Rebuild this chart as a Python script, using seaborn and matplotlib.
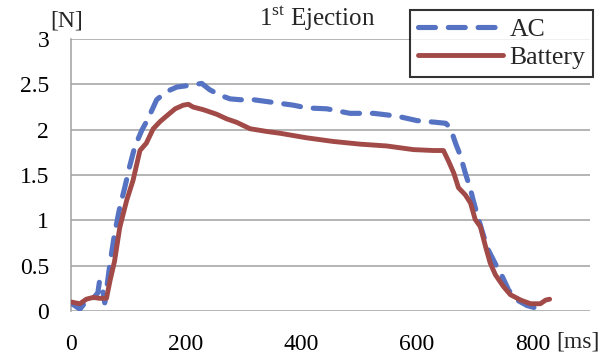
import matplotlib
matplotlib.use("Agg")
import matplotlib.pyplot as plt
import seaborn as sns
import pandas as pd

ac_ms = [0, 16, 27, 39, 47, 50, 55, 59, 68, 76, 85, 94, 102, 111, 123, 134, 149, 166, 184, 207, 227,
         241, 259, 276, 294, 317, 340, 363, 386, 409, 444, 484, 525, 565, 600, 635, 650, 658, 667,
         675, 684, 693, 698, 707, 716, 724, 736, 748, 759, 774, 791, 808, 820]
ac_n = [0.09, 0.02, 0.11, 0.14, 0.20, 0.33, 0.25, 0.09, 0.52, 0.85, 1.14, 1.37, 1.59, 1.81, 1.99, 2.12,
        2.33, 2.42, 2.47, 2.49, 2.51, 2.44, 2.38, 2.34, 2.33, 2.33, 2.31, 2.29, 2.27, 2.24, 2.23, 2.18,
        2.18, 2.15, 2.10, 2.08, 2.07, 2.02, 1.85, 1.72, 1.52, 1.34, 1.21, 1.01, 0.82, 0.67, 0.52, 0.38,
        0.23, 0.12, 0.06, 0.03, 0.03]

bat_ms = [0, 16, 27, 39, 50, 62, 68, 76, 85, 97, 108, 120, 131, 143, 155, 166, 181, 195, 204, 212, 230,
          253, 270, 288, 311, 340, 363, 409, 455, 502, 548, 594, 629, 646, 655, 664, 672, 684, 693,
          701, 710, 719, 727, 736, 750, 762, 780, 797, 814, 823, 830]
bat_n = [0.10, 0.08, 0.13, 0.15, 0.14, 0.14, 0.33, 0.55, 0.92, 1.22, 1.44, 1.77, 1.85, 2.01, 2.09, 2.15,
         2.23, 2.27, 2.28, 2.25, 2.22, 2.17, 2.12, 2.08, 2.01, 1.98, 1.96, 1.91, 1.87, 1.84, 1.82, 1.78,
         1.77, 1.77, 1.65, 1.52, 1.36, 1.28, 1.19, 1.01, 0.93, 0.71, 0.53, 0.40, 0.27, 0.18, 0.12, 0.08,
         0.08, 0.12, 0.13]

x_ticks = [0, 200, 400, 600, 800]
y_ticks = [0, 0.5, 1, 1.5, 2, 2.5, 3]
y_tick_labels = ["0", "0.5", "1", "1.5", "2", "2.5", "3"]

sns.set_theme(style="white")
plt.rcParams["font.family"] = ["Liberation Serif", "DejaVu Serif"]
plt.rcParams["mathtext.fontset"] = "custom"
plt.rcParams["mathtext.rm"] = "Liberation Serif"

fig = plt.figure(figsize=(6.1, 3.54), dpi=100)
ax = fig.add_axes([70.7 / 610, 1 - 311 / 354, (590 - 70.7) / 610, (311 - 39) / 354])

ac_df = pd.DataFrame({"ms": ac_ms, "N": ac_n})
bat_df = pd.DataFrame({"ms": bat_ms, "N": bat_n})

blue = "#5672C2"
red = "#A24A47"
sns.lineplot(data=ac_df, x="ms", y="N", ax=ax, color=blue, linewidth=3.7, label="AC",
             dashes=False, zorder=3)
sns.lineplot(data=bat_df, x="ms", y="N", ax=ax, color=red, linewidth=3.5, label="Battery",
             zorder=4)
l_ac = ax.lines[0]
l_ac.set_dashes((3.3, 2.5))
l_ac.set_dash_capstyle("round")
ax.lines[1].set_solid_capstyle("round")

ax.set_xlim(0, 900)
ax.set_ylim(0, 3)
ax.set_xticks(x_ticks)
ax.set_xticklabels([str(t) for t in x_ticks])
ax.set_yticks(y_ticks)
ax.set_yticklabels(y_tick_labels)
ax.set_xlabel("")
ax.set_ylabel("")
ax.grid(axis="y", color="#a0a0a0", linewidth=1.1)
ax.set_axisbelow(True)
for s in ["top", "right", "bottom"]:
    ax.spines[s].set_visible(False)
ax.spines["left"].set_color("#a0a0a0")
ax.spines["left"].set_linewidth(1.1)
ax.tick_params(axis="both", which="major", labelsize=17, colors="black", direction="out",
               length=6.5, width=1.1, color="#a0a0a0")
ax.tick_params(axis="y", pad=9)
ax.tick_params(axis="x", pad=10)
for t in ax.get_xticklabels() + ax.get_yticklabels():
    t.set_color("black")

fig.text(67 / 610, 1 - 21 / 354, "[N]", fontsize=17, ha="center", va="center")
fig.text(578 / 610, 1 - 342 / 354, "[ms]", fontsize=17, ha="center", va="center")
fig.text(317 / 610, 1 - 18 / 354, r"1$^{\mathrm{st}}$ Ejection", fontsize=18, ha="center", va="center")

leg = ax.legend(loc="upper right", bbox_to_anchor=(593 / 610, 1 - 10 / 354),
                bbox_transform=fig.transFigure, borderaxespad=0, fontsize=18.5,
                frameon=True, fancybox=False, edgecolor="black", handlelength=3.3,
                handletextpad=0.25, borderpad=0.3, labelspacing=0.2)
leg.get_frame().set_linewidth(1.5)
leg.set_zorder(10)

fig.savefig("out.png", dpi=100)
